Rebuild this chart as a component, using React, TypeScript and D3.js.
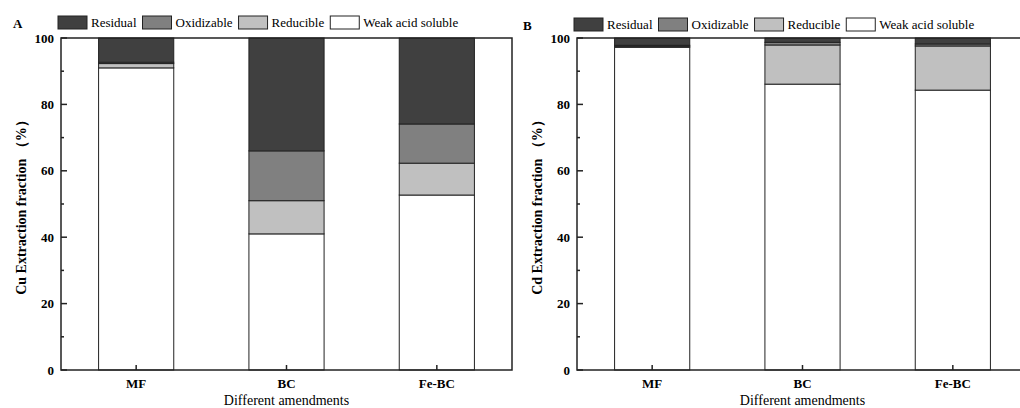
import React, { useEffect, useRef } from 'react';
import * as d3 from 'd3';

const categories = ['MF', 'BC', 'Fe-BC'];
const fractionNames = ['Weak acid soluble', 'Reducible', 'Oxidizable', 'Residual'];
const legendOrder = ['Residual', 'Oxidizable', 'Reducible', 'Weak acid soluble'];
const fractionColors = ['#ffffff', '#c0c0c0', '#808080', '#404040'];

// Cu fractions (%)
const cuWeakAcid = [91.0, 41.0, 52.7];
const cuReducible = [1.3, 10.0, 9.6];
const cuOxidizable = [0.4, 15.0, 11.8];
const cuResidual = [7.3, 34.0, 25.9];

// Cd fractions (%)
const cdWeakAcid = [97.2, 86.1, 84.3];
const cdReducible = [0.3, 11.8, 13.3];
const cdOxidizable = [0.3, 0.8, 0.6];
const cdResidual = [2.2, 1.3, 1.8];

const yTicks = [0, 20, 40, 60, 80, 100];
const yMinorTicks = [10, 30, 50, 70, 90];

const font = '"Times New Roman", "Liberation Serif", serif';

const drawPanel = (svg, opts) => {
  const { left, dy, letterX, letter, yLabel, series } = opts;
  const top = 38;
  const width = 451;
  const height = 332;

  const g = svg.append('g').attr('transform', `translate(${left}, ${top})`);

  const x = d3.scaleBand().domain(categories).range([0, width]).paddingInner(0.5).paddingOuter(0.25);
  const y = d3.scaleLinear().domain([0, 100]).range([height, 0]);

  const rows = categories.map((c, i) => {
    const row = { category: c };
    fractionNames.forEach((f, k) => { row[f] = series[k][i]; });
    return row;
  });
  const stacked = d3.stack().keys(fractionNames)(rows);

  stacked.forEach((layer, k) => {
    g.selectAll(null)
      .data(layer)
      .enter()
      .append('rect')
      .attr('x', d => x(d.data.category))
      .attr('width', x.bandwidth())
      .attr('y', d => y(Math.min(d[1], 100)))
      .attr('height', d => y(d[0]) - y(Math.min(d[1], 100)))
      .attr('fill', fractionColors[k])
      .attr('stroke', '#222')
      .attr('stroke-width', 1);
  });

  // frame
  g.append('rect')
    .attr('x', 0).attr('y', 0).attr('width', width).attr('height', height)
    .attr('fill', 'none').attr('stroke', '#222').attr('stroke-width', 1.5);

  // y ticks (inward)
  g.selectAll(null).data(yTicks).enter().append('line')
    .attr('x1', 0).attr('x2', 6).attr('y1', d => y(d)).attr('y2', d => y(d))
    .attr('stroke', '#222').attr('stroke-width', 1.5);
  g.selectAll(null).data(yMinorTicks).enter().append('line')
    .attr('x1', 0).attr('x2', 3).attr('y1', d => y(d)).attr('y2', d => y(d))
    .attr('stroke', '#222').attr('stroke-width', 1.5);
  g.selectAll(null).data(yTicks).enter().append('text')
    .attr('x', -7).attr('y', d => y(d)).attr('dy', '0.35em')
    .attr('text-anchor', 'end').attr('font-family', font).attr('font-weight', 'bold').attr('font-size', 13)
    .text(d => d);

  // x ticks (inward)
  g.selectAll(null).data(categories).enter().append('line')
    .attr('x1', d => x(d) + x.bandwidth() / 2).attr('x2', d => x(d) + x.bandwidth() / 2)
    .attr('y1', height).attr('y2', height - 5)
    .attr('stroke', '#222').attr('stroke-width', 1.5);
  g.selectAll(null).data(categories).enter().append('text')
    .attr('x', d => x(d) + x.bandwidth() / 2).attr('y', height + 18)
    .attr('text-anchor', 'middle').attr('font-family', font).attr('font-weight', 'bold').attr('font-size', 13)
    .text(d => d);

  g.append('text')
    .attr('x', x('BC') + x.bandwidth() / 2).attr('y', height + 35)
    .attr('text-anchor', 'middle').attr('font-family', font).attr('font-size', 14)
    .text('Different amendments');

  g.append('text')
    .attr('transform', `translate(${-35}, ${height / 2}) rotate(-90)`)
    .attr('text-anchor', 'middle').attr('font-family', font).attr('font-weight', 'bold').attr('font-size', 14)
    .text(yLabel);

  // panel letter
  svg.append('text')
    .attr('x', letterX).attr('y', 28 + dy)
    .attr('font-family', font).attr('font-weight', 'bold').attr('font-size', 13)
    .text(letter);

  // legend
  let lx = left - 3;
  legendOrder.forEach(name => {
    const k = fractionNames.indexOf(name);
    svg.append('rect')
      .attr('x', lx).attr('y', 16 + dy).attr('width', 29).attr('height', 13)
      .attr('fill', fractionColors[k]).attr('stroke', '#222').attr('stroke-width', 1);
    const t = svg.append('text')
      .attr('x', lx + 33).attr('y', 27 + dy)
      .attr('font-family', font).attr('font-size', 13)
      .text(name);
    const w = t.node().getComputedTextLength();
    lx += 33 + w + 6;
  });
};

const App = () => {
  const svgRef = useRef(null);

  useEffect(() => {
    const svg = d3.select(svgRef.current);
    svg.selectAll('*').remove();
    drawPanel(svg, {
      left: 61, dy: 0, letterX: 13, letter: 'A', yLabel: 'Cu Extraction fraction （%）',
      series: [cuWeakAcid, cuReducible, cuOxidizable, cuResidual],
    });
    drawPanel(svg, {
      left: 577, dy: 2, letterX: 523, letter: 'B', yLabel: 'Cd Extraction fraction （%）',
      series: [cdWeakAcid, cdReducible, cdOxidizable, cdResidual],
    });
  }, []);

  return (
    <svg ref={svgRef} width={1020} height={408}
      style={{ position: 'absolute', left: 0, top: 0, background: '#fff' }} />
  );
};

export default App;
